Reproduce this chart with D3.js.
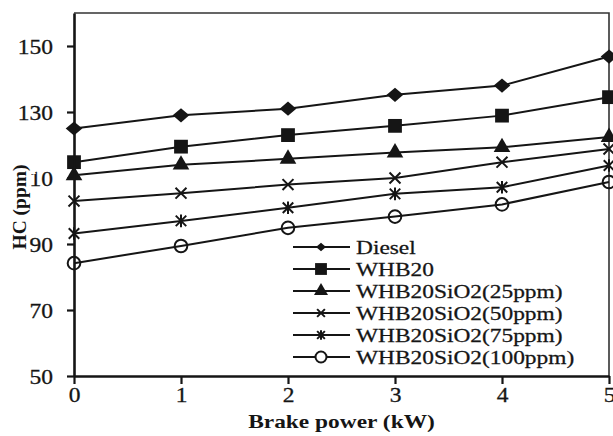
<!DOCTYPE html>
<html>
<head>
<meta charset="utf-8">
<script src="https://cdn.jsdelivr.net/npm/d3@7"></script>
<style>
  body { margin: 0; background: #fff; }
  text { font-family: "Liberation Serif", "Times New Roman", serif; fill: #151515; }
</style>
</head>
<body>
<script>
// brake power (kW)
const power = [0, 1, 2, 3, 4, 5];

// HC (ppm) per fuel
const diesel = [125, 129, 131, 135.2, 138, 146.8];
const whb20 = [114.8, 119.5, 123, 125.8, 128.9, 134.5];
const sio25 = [110.8, 114, 115.8, 117.7, 119.3, 122.4];
const sio50 = [103, 105.4, 108, 110, 114.8, 118.8];
const sio75 = [93.2, 97, 101, 105.2, 107.2, 113.8];
const sio100 = [84.2, 89.4, 94.9, 98.3, 102, 108.8];

const seriesNames = ["Diesel", "WHB20", "WHB20SiO2(25ppm)", "WHB20SiO2(50ppm)", "WHB20SiO2(75ppm)", "WHB20SiO2(100ppm)"];
const seriesValues = [diesel, whb20, sio25, sio50, sio75, sio100];

const yTicks = [50, 70, 90, 110, 130, 150];
const xTicks = [0, 1, 2, 3, 4, 5];

const W = 613, H = 436;
const m = {top: 13, right: 4, bottom: 60, left: 74};
const ink = "#151515";

// custom marker shapes (x and asterisk), so they don't depend on d3 version
const crossType = {
  draw(ctx, size) {
    const r = Math.sqrt(size) / 2;
    ctx.moveTo(-r, -r); ctx.lineTo(r, r);
    ctx.moveTo(r, -r); ctx.lineTo(-r, r);
  }
};
const starType = {
  draw(ctx, size) {
    const r = Math.sqrt(size) / 2;
    ctx.moveTo(-r, -r); ctx.lineTo(r, r);
    ctx.moveTo(r, -r); ctx.lineTo(-r, r);
    ctx.moveTo(0, -r * 1.2); ctx.lineTo(0, r * 1.2);
  }
};
const wideDiamond = {
  draw(ctx, size) {
    const r = Math.sqrt(size) / 2;
    ctx.moveTo(0, -r * 0.9); ctx.lineTo(r * 1.05, 0);
    ctx.lineTo(0, r * 0.9); ctx.lineTo(-r * 1.05, 0); ctx.closePath();
  }
};

const markers = [
  {type: wideDiamond, size: 250, fill: ink, stroke: "none"},
  {type: d3.symbolSquare, size: 190, fill: ink, stroke: "none"},
  {type: d3.symbolTriangle, size: 120, fill: ink, stroke: "none"},
  {type: crossType, size: 120, fill: "none", stroke: ink},
  {type: starType, size: 110, fill: "none", stroke: ink},
  {type: d3.symbolCircle, size: 125, fill: "none", stroke: ink}
];

const svg = d3.select("body").append("svg").attr("width", W).attr("height", H);

const x = d3.scaleLinear().domain([0, 5]).range([m.left, W - m.right]);
const y = d3.scaleLinear().domain([50, 160]).range([H - m.bottom, m.top]);

// frame top and right
svg.append("path")
  .attr("d", `M${x(0)},${y(160)}H${x(5)}V${y(50)}`)
  .attr("fill", "none").attr("stroke", "#333").attr("stroke-width", 1.6);

const line = d3.line().x((d, i) => x(power[i])).y(d => y(d));

seriesValues.forEach((vals, s) => {
  svg.append("path").datum(vals)
    .attr("d", line)
    .attr("fill", "none").attr("stroke", ink).attr("stroke-width", 2);
});

seriesValues.forEach((vals, s) => {
  const mk = markers[s];
  svg.append("g").selectAll("path").data(vals).enter()
    .append("path")
    .attr("transform", (d, i) => `translate(${x(power[i])},${y(d)})`)
    .attr("d", d3.symbol().type(mk.type).size(mk.size))
    .attr("fill", mk.fill === "none" ? "none" : mk.fill)
    .attr("stroke", mk.stroke).attr("stroke-width", 2);
});

// axes
const xAxis = svg.append("g").attr("transform", `translate(0,${y(50)})`)
  .call(d3.axisBottom(x).tickValues(xTicks).tickSize(8).tickSizeOuter(0).tickFormat(d3.format("d")));
const yAxis = svg.append("g").attr("transform", `translate(${x(0)},0)`)
  .call(d3.axisLeft(y).tickValues(yTicks).tickSize(7).tickSizeOuter(0));

[xAxis, yAxis].forEach(a => {
  a.select(".domain").attr("stroke", ink).attr("stroke-width", 2.6);
  a.selectAll(".tick line").attr("stroke", ink).attr("stroke-width", 2.2);
  a.selectAll(".tick text").attr("font-size", 21).attr("fill", ink)
    .attr("stroke", ink).attr("stroke-width", 0.3)
    .style("font-family", "'Liberation Serif', 'Times New Roman', serif");
});
xAxis.selectAll(".tick text").attr("y", 0).attr("dy", 0)
  .attr("transform", "translate(0,26) scale(1.12,1)");
yAxis.selectAll(".tick text").attr("x", 0).attr("dy", 0)
  .attr("transform", "translate(-21,7) scale(1.12,1)");

// axis titles
svg.append("text")
  .attr("transform", `translate(${(x(0) + x(5)) / 2},428) scale(1.3,1)`)
  .attr("text-anchor", "middle").attr("font-size", 18).attr("font-weight", "bold")
  .text("Brake power (kW)");

svg.append("text")
  .attr("transform", "translate(26,207) rotate(-90)")
  .attr("text-anchor", "middle").attr("font-size", 19.5).attr("font-weight", "bold")
  .attr("stroke", "#fff").attr("stroke-width", 7).attr("paint-order", "stroke")
  .text("HC (ppm)");

// legend
const legendMarkers = [
  {type: wideDiamond, size: 90},
  {type: d3.symbolSquare, size: 140},
  {type: d3.symbolTriangle, size: 85},
  {type: crossType, size: 60},
  {type: starType, size: 60},
  {type: d3.symbolCircle, size: 95}
];

const leg = svg.append("g").selectAll("g").data(seriesNames).enter()
  .append("g")
  .attr("transform", (d, i) => `translate(293,${247 + i * 22})`);

leg.append("line").attr("x1", 0).attr("x2", 57)
  .attr("stroke", ink).attr("stroke-width", 2);
leg.append("path")
  .attr("transform", "translate(28,0)")
  .attr("d", (d, i) => d3.symbol().type(legendMarkers[i].type).size(legendMarkers[i].size)())
  .attr("fill", (d, i) => markers[i].fill === "none" ? "#fff" : ink)
  .attr("stroke", ink).attr("stroke-width", (d, i) => markers[i].fill === "none" ? 2 : 0);
leg.append("text")
  .attr("transform", "translate(63,6.5) scale(1.3,1)")
  .attr("font-size", 18)
  .attr("stroke", ink).attr("stroke-width", 0.25)
  .text(d => d);
</script>
</body>
</html>
